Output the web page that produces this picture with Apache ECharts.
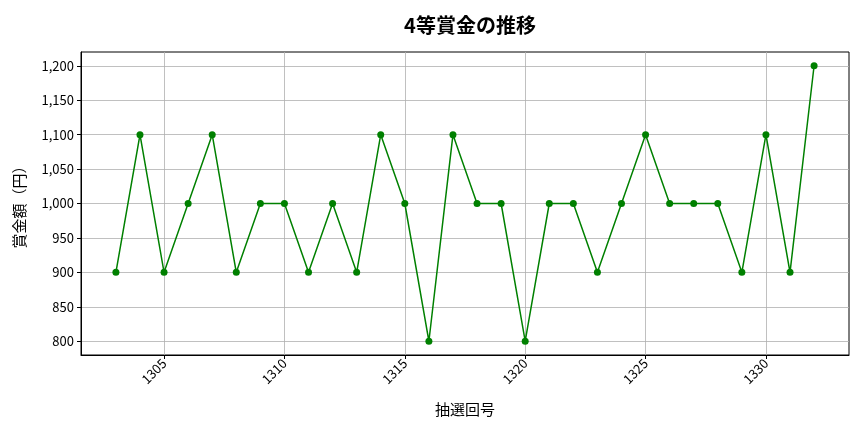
<!DOCTYPE html>
<html>
<head>
<meta charset="utf-8">
<script src="https://cdn.jsdelivr.net/npm/echarts@6/dist/echarts.min.js"></script>
<style>
html, body { margin: 0; padding: 0; background: #fff; }
#chart { width: 864px; height: 432px; }
</style>
</head>
<body>
<div id="chart"></div>
<script>
// 抽選回号
var rounds = [1303, 1304, 1305, 1306, 1307, 1308, 1309, 1310, 1311, 1312,
	1313, 1314, 1315, 1316, 1317, 1318, 1319, 1320, 1321, 1322,
	1323, 1324, 1325, 1326, 1327, 1328, 1329, 1330, 1331, 1332];
// 4等賞金（円）
var prizes = [900, 1100, 900, 1000, 1100, 900, 1000, 1000, 900, 1000,
	900, 1100, 1000, 800, 1100, 1000, 1000, 800, 1000, 1000,
	900, 1000, 1100, 1000, 1000, 1000, 900, 1100, 900, 1200];
// 目盛り
var xTicks = [1305, 1310, 1315, 1320, 1325, 1330];
var yTicks = [800, 850, 900, 950, 1000, 1050, 1100, 1150, 1200];

var font = '"Noto Sans CJK JP", "Noto Sans", sans-serif';
var chart = echarts.init(document.getElementById('chart'));

var points = [];
for (var i = 0; i < rounds.length; i++) {
	points.push([rounds[i], prizes[i]]);
}

chart.setOption({
	animation: false,
	textStyle: { fontFamily: font },
	title: {
		text: '4等賞金の推移',
		left: 465,
		textAlign: 'center',
		top: 10,
		textStyle: { fontFamily: font, fontSize: 20, fontWeight: 'bold', color: '#000' }
	},
	grid: { left: 81, right: 15, top: 52, bottom: 77, containLabel: false },
	xAxis: {
		type: 'value',
		min: 1301.55,
		max: 1333.45,
		name: '抽選回号',
		nameLocation: 'middle',
		nameGap: 47,
		nameTextStyle: { fontFamily: font, fontSize: 15, color: '#000' },
		axisLine: { show: true, onZero: false, lineStyle: { color: '#000', width: 1 } },
		axisTick: { show: true, customValues: xTicks, length: 4, lineStyle: { color: '#000' } },
		axisLabel: {
			customValues: xTicks,
			rotate: 45,
			color: '#000',
			fontSize: 13,
			margin: 6,
			formatter: function(v) { return String(v); }
		},
		splitLine: { show: true, lineStyle: { color: '#b0b0b0', width: 0.8 } }
	},
	yAxis: {
		type: 'value',
		min: 780,
		max: 1220,
		name: '賞金額（円）',
		nameLocation: 'middle',
		nameGap: 54,
		nameTextStyle: { fontFamily: font, fontSize: 15, color: '#000' },
		axisLine: { show: true, lineStyle: { color: '#000', width: 1 } },
		axisTick: { show: true, customValues: yTicks, length: 4, lineStyle: { color: '#000' } },
		axisLabel: {
			customValues: yTicks,
			color: '#000',
			fontSize: 13,
			margin: 7,
			formatter: function(v) { return v.toLocaleString('en-US'); }
		},
		splitLine: { show: true, lineStyle: { color: '#b0b0b0', width: 0.8 } }
	},
	series: [{
		type: 'line',
		data: points,
		symbol: 'circle',
		symbolSize: 7,
		lineStyle: { color: '#008000', width: 1.5 },
		itemStyle: { color: '#008000' }
	}],
	graphic: [{
		type: 'rect',
		shape: { x: 81, y: 52, width: 768, height: 303 },
		style: { fill: 'none', stroke: '#000', lineWidth: 1 },
		silent: true
	}]
});
</script>
</body>
</html>
